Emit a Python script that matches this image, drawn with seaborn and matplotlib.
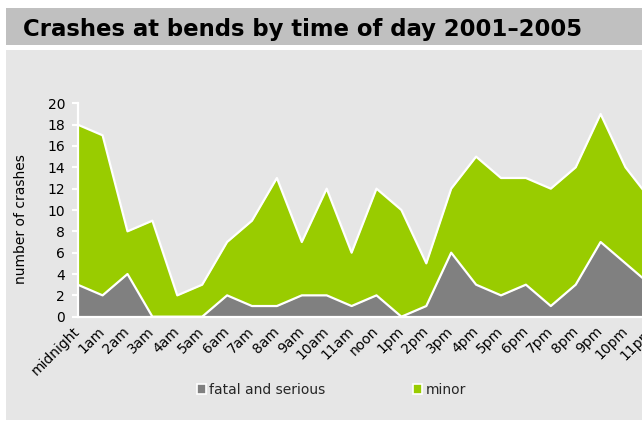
import numpy as np
import pandas as pd
import matplotlib
matplotlib.use("Agg")
import matplotlib.pyplot as plt
import matplotlib.transforms as mtransforms
from matplotlib.patches import Rectangle, Patch
import seaborn as sns

# Crashes at bends, 2001-2005, by hour of day
hours = ["midnight", "1am", "2am", "3am", "4am", "5am", "6am", "7am", "8am",
         "9am", "10am", "11am", "noon", "1pm", "2pm", "3pm", "4pm", "5pm",
         "6pm", "7pm", "8pm", "9pm", "10pm", "11pm"]
fatal_serious = [3, 2, 4, 0, 0, 0, 2, 1, 1, 2, 2, 1, 2, 0, 1, 6, 3, 2, 3, 1, 3, 7, 5, 3]
minor = [15, 15, 4, 9, 2, 3, 5, 8, 12, 5, 10, 5, 10, 10, 4, 6, 12, 11, 10, 11, 11, 12, 9, 8]
y_ticks = [0, 2, 4, 6, 8, 10, 12, 14, 16, 18, 20]

GREEN = "#99cc00"
GREY = "#808080"

sns.set_theme(style="white")
plt.rcParams["font.family"] = ["DejaVu Sans"]

df = pd.DataFrame({
    "pos": np.arange(len(hours)),
    "fatal": fatal_serious,
    "total": np.array(fatal_serious) + np.array(minor),
})

W, H = 642, 421
fig = plt.figure(figsize=(W / 100, H / 100), dpi=100)
fig.patch.set_facecolor("white")

# header band and chart panel
fig.add_artist(Rectangle((6 / W, (H - 45) / H), (W - 6) / W, 37 / H,
                         transform=fig.transFigure, facecolor="#c0c0c0",
                         edgecolor="none", zorder=-10))
fig.add_artist(Rectangle((6 / W, 1 / H), (W - 6) / W, 370 / H,
                         transform=fig.transFigure, facecolor="#e6e6e6",
                         edgecolor="none", zorder=-10))
fig.text(23 / W, (H - 36) / H, "Crashes at bends by time of day 2001\u20132005",
         fontsize=16.4, fontweight="bold", color="black", ha="left", va="baseline")

x0, x1 = 77.7, 650.4
y0, y1 = H - 316.7, H - 103.3
ax = fig.add_axes([x0 / W, y0 / H, (x1 - x0) / W, (y1 - y0) / H])
ax.set_facecolor("none")

ax.stackplot(df["pos"], df["fatal"], np.array(minor), colors=[GREY, GREEN],
             linewidth=0, zorder=1)
sns.lineplot(data=df, x="pos", y="total", color="white", linewidth=1.6, ax=ax,
             zorder=3)
sns.lineplot(data=df, x="pos", y="fatal", color="white", linewidth=1.6, ax=ax,
             zorder=3)

ax.set_xlim(0, len(hours) - 1)
ax.set_ylim(0, 20)
ax.set_yticks(y_ticks)
ax.set_xticks(df["pos"])
ax.set_xticklabels(hours, rotation=45, ha="right", va="center",
                   rotation_mode="anchor")
shift = mtransforms.ScaledTranslation(-0.11, -0.07, fig.dpi_scale_trans)
for lbl in ax.get_xticklabels():
    lbl.set_transform(lbl.get_transform() + shift)

for side in ["top", "right"]:
    ax.spines[side].set_visible(False)
for side in ["left", "bottom"]:
    ax.spines[side].set_color("white")
    ax.spines[side].set_linewidth(1.6)
    ax.spines[side].set_zorder(4)

ax.tick_params(axis="y", left=True, color="white", length=4, width=1.5,
               labelsize=10, labelcolor="black", pad=5)
ax.tick_params(axis="x", bottom=False, length=0, labelsize=10,
               labelcolor="black", pad=9)

ax.set_xlabel("")
ax.set_ylabel("number of crashes", fontsize=10, color="black")
ax.yaxis.set_label_coords(-(77.7 - 28) / (x1 - x0), (316.7 - 219) / (316.7 - 103.3))

handles = [Patch(facecolor=GREY, edgecolor="white", linewidth=1.2),
           Patch(facecolor=GREEN, edgecolor="white", linewidth=1.2)]
fig.legend(handles, ["fatal and serious", "minor"], loc="center left",
           bbox_to_anchor=(190 / W, (H - 390) / H), ncol=2, frameon=False,
           fontsize=10, handlelength=0.65, handleheight=0.65,
           handletextpad=0.25, columnspacing=6.3, borderpad=0)

fig.savefig("out.png", dpi=100, facecolor=fig.get_facecolor())
